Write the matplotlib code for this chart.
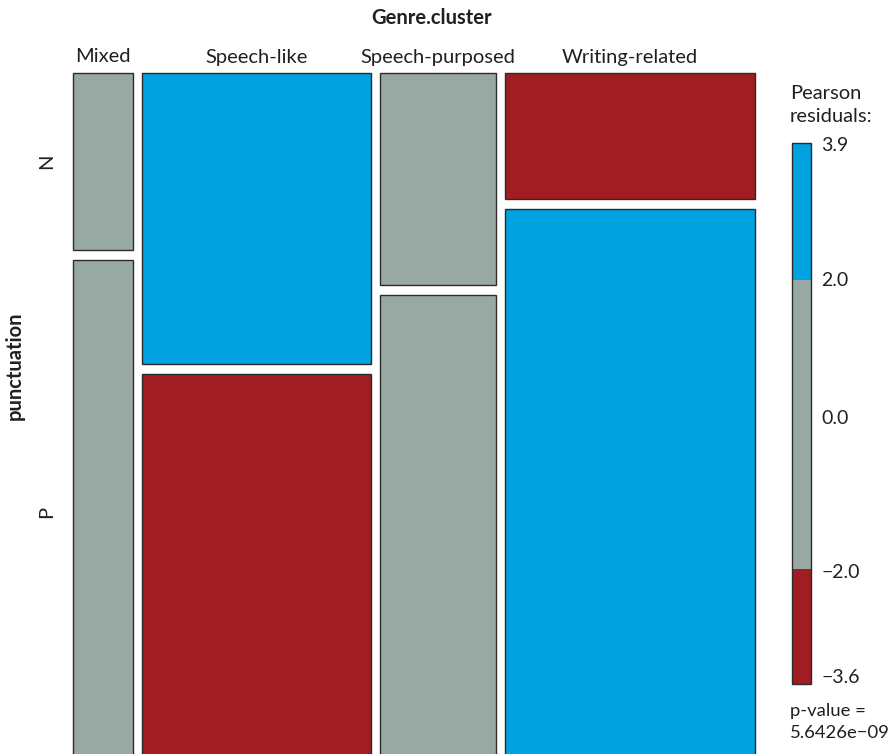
import numpy as np
import matplotlib
matplotlib.use("Agg")
import matplotlib.pyplot as plt
from matplotlib.patches import Rectangle

plt.rcParams['font.family'] = ['Lato', 'DejaVu Sans']

genres = ['Mixed', 'Speech-like', 'Speech-purposed', 'Writing-related']
levels = ['N', 'P']
count_n = np.array([19, 118, 44, 56])
count_p = np.array([54, 158, 97, 246])
pvalue_text = 'p-value =\n5.6426e\u221209'

BLUE = '#00a3e0'
RED = '#a01d21'
GRAY = '#98a8a3'
TXT = '#231f20'

# pearson residuals from the 2x4 table
table = np.vstack([count_n, count_p]).astype(float)
total = table.sum()
expected = np.outer(table.sum(axis=1), table.sum(axis=0)) / total
resid = (table - expected) / np.sqrt(expected)
rmax, rmin = resid.max(), resid.min()


def shade(r):
    if r > 2:
        return BLUE
    if r < -2:
        return RED
    return GRAY


W, H = 896, 754
fig = plt.figure(figsize=(W / 100, H / 100), dpi=100)

# mosaic panel, bottom runs past the figure edge
top_px, bot_px = 73, 763
ax = fig.add_axes([73 / W, 1 - bot_px / H, 682 / W, (bot_px - top_px) / H])
ax.set_xlim(0, 1)
ax.set_ylim(1, 0)
ax.axis('off')

gx = 9 / 682
gy = 10 / (bot_px - top_px)
col_tot = table.sum(axis=0)
widths = col_tot / total * (1 - 3 * gx)
x = 0.0
centers = []
for j in range(len(genres)):
    w = widths[j]
    hn = table[0, j] / col_tot[j] * (1 - gy)
    ax.add_patch(Rectangle((x, 0), w, hn, facecolor=shade(resid[0, j]),
                           edgecolor='#2b2b2b', lw=1.0, clip_on=False))
    ax.add_patch(Rectangle((x, hn + gy), w, 1 - hn - gy, facecolor=shade(resid[1, j]),
                           edgecolor='#2b2b2b', lw=1.0, clip_on=False))
    centers.append(x + w / 2)
    if j == 0:
        row_mid = [hn / 2, hn + gy + (1 - hn - gy) / 2]
    x += w + gx

for c, g in zip(centers, genres):
    ax.text(c, -16 / 690, g, ha='center', va='center', fontsize=14.5, color=TXT)
for m, lv in zip(row_mid, levels):
    ax.text(-26 / 682, m, lv, ha='center', va='center', rotation=90,
            fontsize=14.5, color=TXT)

fig.text(432 / W, 1 - 18 / H, 'Genre.cluster', ha='center', va='center',
         fontsize=14.5, fontweight='bold', color=TXT)
fig.text(15 / W, 1 - 366 / H, 'punctuation', ha='center', va='center',
         rotation=90, fontsize=14.5, fontweight='bold', color=TXT)

# residual legend
lo, hi = round(rmin, 1), round(rmax, 1)
cax = fig.add_axes([792 / W, 1 - 684 / H, 19 / W, (684 - 143) / H])
cax.set_xlim(0, 1)
cax.set_ylim(lo, hi)
cax.axis('off')
bands = [(lo, -2, RED), (-2, 2, GRAY), (2, hi, BLUE)]
for a, b, c in bands:
    cax.add_patch(Rectangle((0, a), 1, b - a, facecolor=c, edgecolor='none'))
cax.add_patch(Rectangle((0, lo), 1, hi - lo, facecolor='none',
                        edgecolor='#2b2b2b', lw=1.0, clip_on=False))
for v, off in [(hi, -0.03), (2.0, 0.0), (0.0, 0.08), (-2.0, -0.05), (lo, 0.09)]:
    cax.text(1.55, v + off, f'{v:.1f}'.replace('-', '\u2212'), ha='left',
             va='center', fontsize=14, color=TXT)

fig.text(790 / W, 1 - 105 / H, 'Pearson\nresiduals:', ha='left', va='center',
         fontsize=14.5, color=TXT, linespacing=1.4)
fig.text(790 / W, 1 - 722 / H, pvalue_text, ha='left', va='center',
         fontsize=13.3, color=TXT, linespacing=1.5)

fig.savefig('out.png', dpi=100, facecolor='white')
